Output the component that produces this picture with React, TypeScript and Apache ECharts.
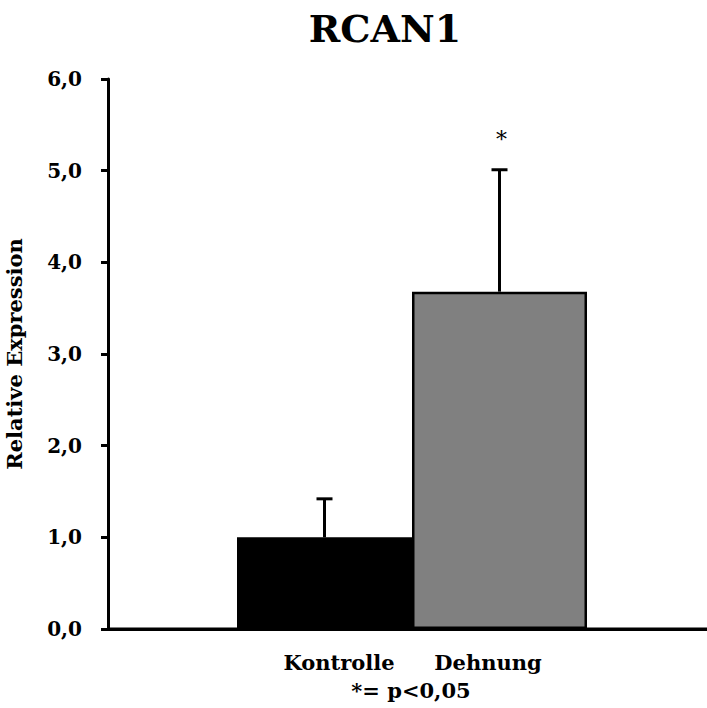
import React, { useEffect, useRef } from "react";
import * as echarts from "echarts";

const categories = ["Kontrolle", "Dehnung"];
const means = [1.0, 3.68];
const errors = [0.42, 1.33];
const significance = ["", "*"];
const colors = ["#000000", "#808080"];
const yTicks = [0, 1, 2, 3, 4, 5, 6];
const titleText = "RCAN1";
const yAxisTitle = "Relative Expression";
const footnote = "*= p<0,05";

const FONT = "'DejaVu Serif', serif";

export default function App() {
  const ref = useRef<HTMLDivElement>(null);
  useEffect(() => {
    if (!ref.current) return;
    document.body.style.overflow = "hidden";
    const chart = echarts.init(ref.current, undefined, { renderer: "svg" });
    const top = 79;
    const height = 550;
    const option: any = {
      animation: false,
      backgroundColor: "#ffffff",
      grid: [
        { left: 108, width: 599, top, height, containLabel: false, outerBoundsMode: "none" },
        { left: 237, width: 350, top, height, containLabel: false, outerBoundsMode: "none" },
      ],
      xAxis: [
        {
          gridIndex: 0,
          type: "value",
          min: 0,
          max: 1,
          axisLine: { show: true, lineStyle: { color: "#000", width: 3 } },
          axisTick: { show: false },
          axisLabel: { show: false },
          splitLine: { show: false },
        },
        {
          gridIndex: 1,
          type: "category",
          data: categories,
          show: false,
        },
      ],
      yAxis: [
        {
          gridIndex: 0,
          type: "value",
          min: yTicks[0],
          max: yTicks[yTicks.length - 1],
          interval: 1,
          axisLine: { show: true, lineStyle: { color: "#000", width: 3 } },
          axisTick: { show: true, inside: false, length: 7, lineStyle: { color: "#000", width: 3 } },
          axisLabel: {
            margin: 26,
            color: "#000",
            fontFamily: FONT,
            fontWeight: "bold",
            fontSize: 20,
            formatter: (v: number) => v.toFixed(1).replace(".", ","),
          },
          splitLine: { show: false },
          name: yAxisTitle,
          nameLocation: "middle",
          nameGap: 83,
          nameRotate: 90,
          nameTextStyle: { color: "#000", fontFamily: FONT, fontWeight: "bold", fontSize: 21 },
        },
        {
          gridIndex: 1,
          type: "value",
          min: yTicks[0],
          max: yTicks[yTicks.length - 1],
          show: false,
        },
      ],
      series: [
        {
          type: "bar",
          xAxisIndex: 1,
          yAxisIndex: 1,
          barWidth: "100%",
          data: means.map((v, i) => ({
            value: v,
            itemStyle: { color: colors[i], borderColor: "#000", borderWidth: 2.5 },
          })),
        },
        {
          type: "custom",
          xAxisIndex: 1,
          yAxisIndex: 1,
          data: means.map((v, i) => [i, v, v + errors[i]]),
          z: 5,
          renderItem: (params: any, api: any) => {
            const i = api.value(0);
            const base = api.coord([i, api.value(1)]);
            const topP = api.coord([i, api.value(2)]);
            const x = base[0];
            const children: any[] = [
              {
                type: "line",
                shape: { x1: x, y1: base[1], x2: x, y2: topP[1] },
                style: { stroke: "#000", lineWidth: 3 },
              },
              {
                type: "line",
                shape: { x1: x - 8, y1: topP[1], x2: x + 8, y2: topP[1] },
                style: { stroke: "#000", lineWidth: 3 },
              },
            ];
            const sig = significance[params.dataIndex];
            if (sig) {
              children.push({
                type: "text",
                x: x + 2,
                y: topP[1] - 30,
                style: {
                  text: sig,
                  fontFamily: FONT,
                  fontSize: 22,
                  fill: "#000",
                  align: "center",
                  verticalAlign: "middle",
                },
              });
            }
            return { type: "group", children };
          },
        },
      ],
      graphic: [
        {
          type: "line",
          shape: { x1: 108, y1: top + height, x2: 707, y2: top + height },
          style: { stroke: "#000", lineWidth: 3 },
          z: 10,
        },
        {
          type: "text",
          x: 385,
          y: 28,
          style: {
            text: titleText,
            fontFamily: FONT,
            fontWeight: "bold",
            fontSize: 38,
            fill: "#000",
            align: "center",
            verticalAlign: "middle",
          },
        },
        {
          type: "text",
          x: 339,
          y: 662,
          style: {
            text: categories[0],
            fontFamily: FONT,
            fontWeight: "bold",
            fontSize: 21,
            fill: "#000",
            align: "center",
            verticalAlign: "middle",
          },
        },
        {
          type: "text",
          x: 488,
          y: 662,
          style: {
            text: categories[1],
            fontFamily: FONT,
            fontWeight: "bold",
            fontSize: 21,
            fill: "#000",
            align: "center",
            verticalAlign: "middle",
          },
        },
        {
          type: "text",
          x: 411,
          y: 690,
          style: {
            text: footnote,
            fontFamily: FONT,
            fontWeight: "bold",
            fontSize: 21,
            fill: "#000",
            align: "center",
            verticalAlign: "middle",
          },
        },
      ],
    };
    chart.setOption(option);
    return () => {
      chart.dispose();
    };
  }, []);
  return <div ref={ref} style={{ width: 707, height: 708, position: "fixed", left: 0, top: 0 }} />;
}
